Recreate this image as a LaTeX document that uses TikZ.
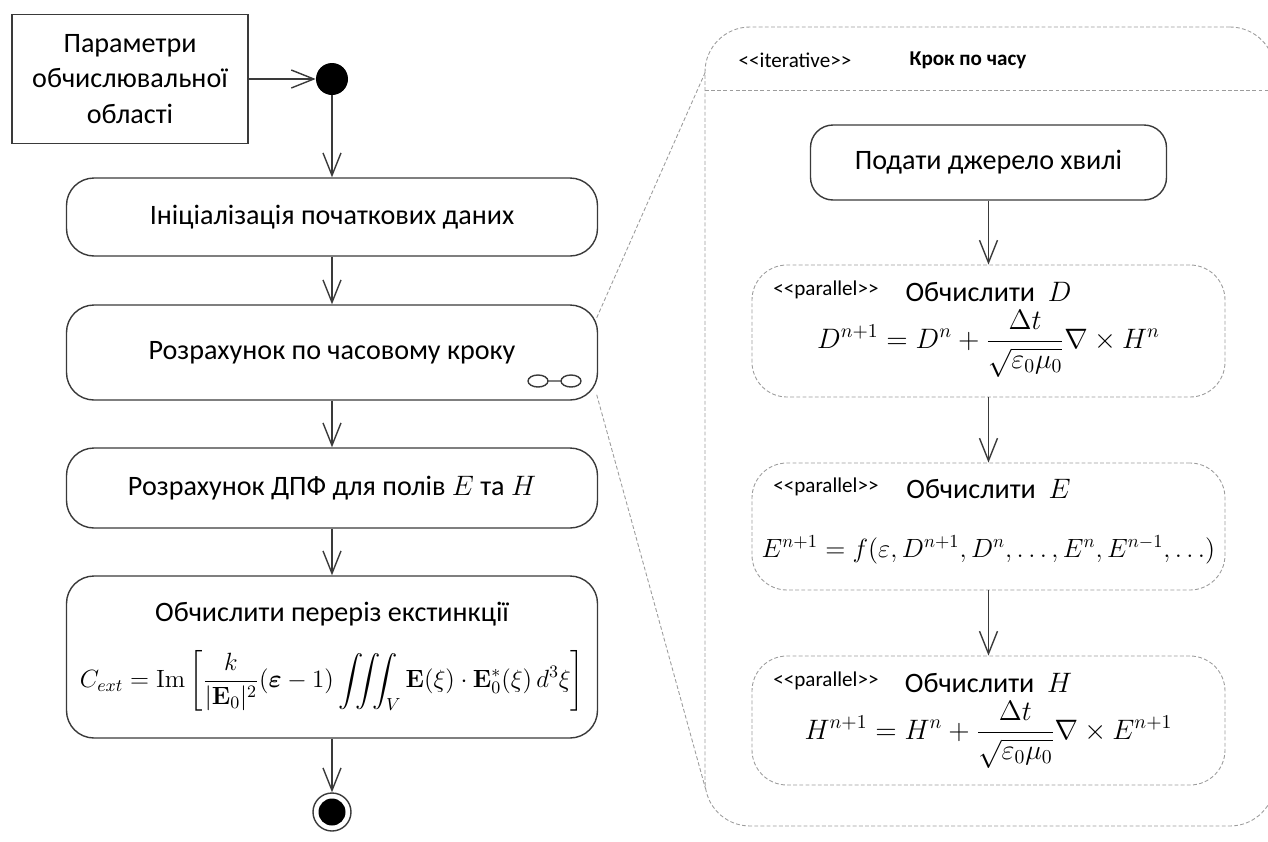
\RequirePackage{fix-cm}
\documentclass[tikz,border=0pt]{standalone}
\usepackage{amsmath}
\usepackage[no-math]{fontspec}
\setmainfont{Carlito}
\usetikzlibrary{arrows.meta, calc}

\definecolor{edge}{HTML}{3A3A3A}
\definecolor{dashgray}{HTML}{9C9C9C}

\begin{document}
\begin{tikzpicture}[
  font=\fontsize{16}{20}\selectfont,
  action/.style={rectangle, draw=edge, line width=0.8pt, rounded corners=0.55cm,
    minimum width=10.62cm, align=center, inner sep=1pt},
  parallelbox/.style={rectangle, draw=dashgray, dash pattern=on 2.2pt off 1.3pt,
    line width=0.5pt, rounded corners=0.7cm, minimum width=9.46cm},
  stereo/.style={font=\fontsize{12}{13}\selectfont, inner sep=0pt},
  formula/.style={font=\fontsize{16}{19}\selectfont, inner sep=0pt},
  flow/.style={-{Straight Barb[length=0.45cm, width=0.36cm]}, draw=edge, line width=0.8pt},
  zoomline/.style={draw=dashgray, dash pattern=on 2.2pt off 1.3pt, line width=0.5pt}
]
\useasboundingbox (0,0) rectangle (25.36,-16.82);

% main flow on the left
\node[draw=edge, line width=0.8pt, minimum width=4.72cm, minimum height=2.58cm, align=center]
  (params) at (2.6,-1.58) {Параметри\\обчислювальної\\області};
\node[circle, fill=black, inner sep=0pt, minimum size=0.64cm] (start) at (6.64,-1.58) {};
\node[action, minimum height=1.56cm] (init) at (6.64,-4.34) {Ініціалізація початкових даних};
\node[action, minimum height=1.9cm] (step) at (6.64,-7.05) {Розрахунок по часовому кроку};
\node[action, minimum height=1.6cm] (dft) at (6.64,-9.76) {Розрахунок ДПФ для полів $E$ та $H$};
\node[action, minimum height=3.24cm] (ext) at (6.64,-13.14)
  {Обчислити переріз екстинкції\\[13pt]
   {\fontsize{14.2}{17}\selectfont$\displaystyle C_{ext}=\mathrm{Im}\left[\frac{k}{|\mathbf{E}_0|^2}(\boldsymbol{\varepsilon}-1)\iiint_V\mathbf{E}(\xi)\cdot\mathbf{E}_0^*(\xi)\,d^3\xi\right]$}};
\node[circle, draw=edge, line width=0.8pt, inner sep=0pt, minimum size=0.76cm] (final) at (6.64,-16.24) {};
\fill (final) circle (0.27cm);

% rake mark of the time step
\draw[edge, line width=0.8pt] (10.76,-7.62) ellipse (0.2cm and 0.12cm)
  (11.42,-7.62) ellipse (0.2cm and 0.12cm) (10.96,-7.62) -- (11.22,-7.62);

\draw[flow] (params) -- (start);
\draw[flow] (start) -- (init);
\draw[flow] (init) -- (step);
\draw[flow] (step) -- (dft);
\draw[flow] (dft) -- (ext);
\draw[flow] (ext) -- (final);

% expanded time step
\node[rectangle, zoomline, rounded corners=0.9cm, minimum width=11.4cm, minimum height=15.98cm]
  (loop) at (19.8,-8.53) {};
\coordinate (hdrL) at (14.1,-1.8);
\coordinate (hdrR) at (25.5,-1.8);
\draw[zoomline] (hdrL) -- (hdrR);
\node[stereo] (loopst) at (15.9,-1.2) {<{}<iterative>{}>};
\node[stereo, font=\fontsize{12}{13}\selectfont\bfseries] (looptitle) at (19.36,-1.2) {Крок по часу};

\coordinate (stepTR) at ($(step.north east)+(-0.03,-0.27)$);
\coordinate (stepBR) at ($(step.south east)+(-0.03,0.12)$);
\coordinate (loopTL) at ($(loop.north west)+(0.02,-0.9)$);
\coordinate (loopBL) at ($(loop.south west)+(0.02,0.75)$);
\draw[zoomline] (stepTR) -- (loopTL);
\draw[zoomline] (stepBR) -- (loopBL);

\node[action, rounded corners=0.45cm, minimum width=7.12cm, minimum height=1.5cm]
  (src) at (19.77,-3.25) {Подати джерело хвилі};

\node[parallelbox, minimum height=2.64cm] (calcD) at (19.77,-6.62) {};
\node[stereo, anchor=west] (calcDst) at (15.46,-5.8) {<{}<parallel>{}>};
\node (calcDtitle) at (19.77,-5.84) {Обчислити\ \ $D$};
\node[formula] (calcDeq) at (19.77,-6.88)
  {$\displaystyle D^{n+1}=D^n+\frac{\Delta t}{\sqrt{\varepsilon_0\mu_0}}\nabla\times H^n$};

\node[parallelbox, minimum height=2.54cm] (calcE) at (19.77,-10.53) {};
\node[stereo, anchor=west] (calcEst) at (15.46,-9.74) {<{}<parallel>{}>};
\node (calcEtitle) at (19.77,-9.78) {Обчислити\ \ $E$};
\node[formula, font=\fontsize{15}{18}\selectfont] (calcEeq) at (19.77,-11.0)
  {$E^{n+1}=f(\varepsilon,D^{n+1},D^n,\ldots,E^n,E^{n-1},\ldots)$};

\node[parallelbox, minimum height=2.58cm] (calcH) at (19.77,-14.41) {};
\node[stereo, anchor=west] (calcHst) at (15.46,-13.62) {<{}<parallel>{}>};
\node (calcHtitle) at (19.77,-13.66) {Обчислити\ \ $H$};
\node[formula] (calcHeq) at (19.77,-14.7)
  {$\displaystyle H^{n+1}=H^n+\frac{\Delta t}{\sqrt{\varepsilon_0\mu_0}}\nabla\times E^{n+1}$};

\draw[flow] (src) -- (calcD);
\draw[flow] (calcD) -- (calcE);
\draw[flow] (calcE) -- (calcH);
\end{tikzpicture}
\end{document}
